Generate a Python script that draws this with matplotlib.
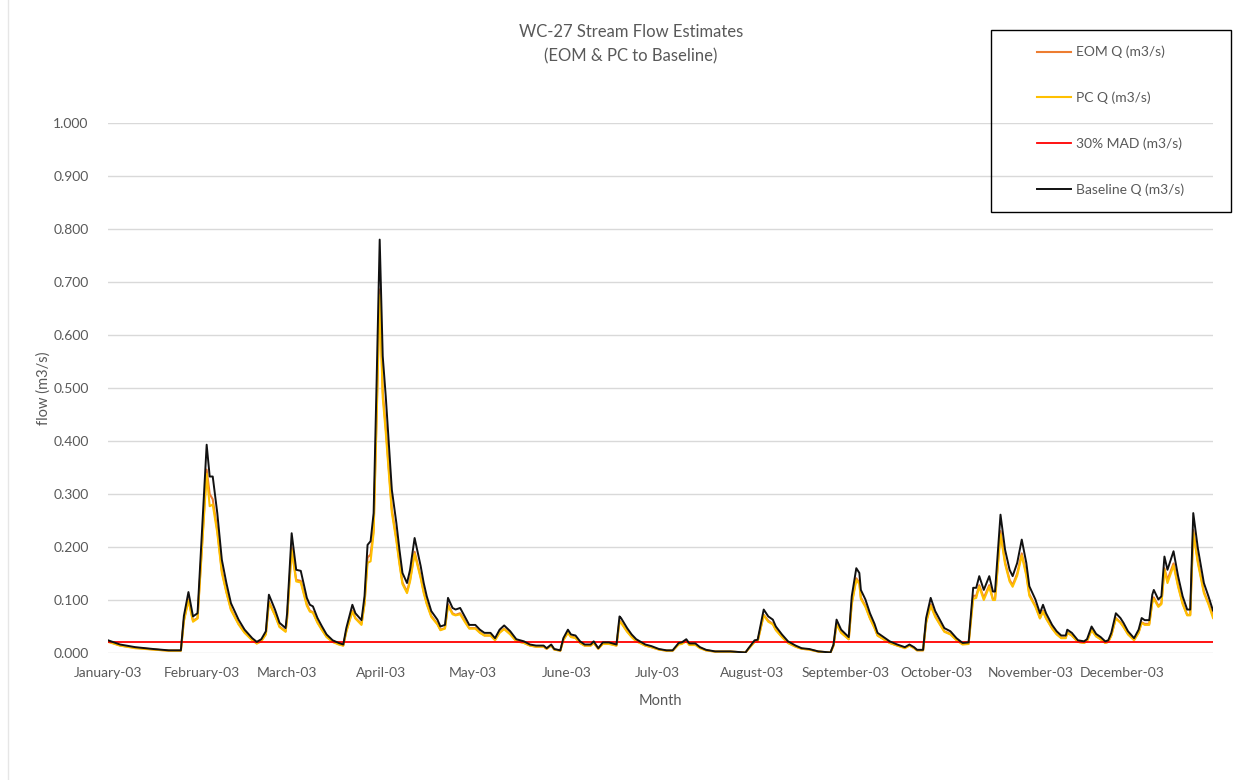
import matplotlib
matplotlib.use("Agg")
import matplotlib.pyplot as plt
from matplotlib.patches import Rectangle

plt.rcParams["font.family"] = ["Lato", "DejaVu Sans"]

# ----------------------------------------------------------
# Daily flow estimates, WC-27 (day of year 2003)
# ----------------------------------------------------------

days = [
    0, 4, 9, 15, 20, 24, 25, 26.5, 28, 29.5,
    31, 32.5, 33.5, 34.5, 36, 37.5, 39, 40.5, 43, 45,
    47.5, 49, 50.5, 52, 53, 55, 56.5, 58.5, 59, 60.5,
    62, 63.5, 65.5, 66.5, 67.5, 69, 70.5, 72, 74, 76,
    77.5, 78.5, 80.5, 81.5, 83.5, 84.5, 85.5, 86.5, 87.5, 88.5,
    89.5, 90.5, 91.5, 92.5, 93.5, 95, 96, 97, 98.5, 99.5,
    101, 103, 104, 105, 106.5, 108.5, 109.5, 111, 112, 113.5,
    114.5, 116, 117.5, 119, 121, 122.5, 124, 126, 127.5, 129,
    130.5, 132.5, 134.5, 137, 139, 141, 143.5, 144.5, 146, 147,
    149, 150, 151.5, 152.5, 154, 155.5, 157, 159, 160, 161.5,
    163, 165, 167.5, 168.5, 169, 171, 172.5, 174, 177, 179,
    181.5, 184, 186, 188, 189, 190.5, 191.5, 193.5, 195, 197,
    200, 205, 210, 211, 213, 214, 216, 217.5, 219, 220,
    222, 224, 226.5, 228.5, 231, 234, 238, 239, 240, 241.5,
    244, 245, 246.5, 247.5, 248, 249.5, 251, 252.5, 253.5, 255.5,
    257.5, 260, 262.5, 264, 265.5, 266.5, 268.5, 269.5, 271, 272.5,
    274, 275.5, 277.5, 279.5, 281.5, 283.5, 285, 286, 287, 288.5,
    290.3, 291.5, 292.2, 294, 295.5, 297, 298, 299.5, 301, 302.5,
    303.5, 305.5, 307, 308, 309, 311, 312.5, 314, 315.5, 316,
    317.5, 319.5, 321.5, 322.5, 324, 325.5, 327, 328.5, 329.5, 330.5,
    332, 333.5, 334.5, 336, 338, 339.5, 340.5, 341.5, 343, 344,
    344.5, 346, 347, 348, 349, 351, 352.5, 354, 355.5, 356.5,
    357.5, 359, 361, 362.5, 364,
]

baseline_q = [
    0.024, 0.016, 0.011, 0.0075, 0.005, 0.005, 0.070, 0.115, 0.069, 0.075,
    0.233, 0.393, 0.333, 0.333, 0.264, 0.176, 0.132, 0.094, 0.063, 0.044,
    0.028, 0.021, 0.026, 0.041, 0.110, 0.082, 0.057, 0.047, 0.075, 0.226,
    0.157, 0.155, 0.104, 0.091, 0.088, 0.066, 0.050, 0.035, 0.024, 0.019,
    0.016, 0.047, 0.091, 0.075, 0.062, 0.107, 0.204, 0.211, 0.264, 0.516,
    0.780, 0.560, 0.484, 0.396, 0.308, 0.245, 0.195, 0.151, 0.132, 0.157,
    0.217, 0.164, 0.132, 0.107, 0.079, 0.063, 0.050, 0.053, 0.104, 0.085,
    0.082, 0.085, 0.069, 0.053, 0.053, 0.044, 0.038, 0.038, 0.028, 0.044,
    0.052, 0.041, 0.026, 0.022, 0.016, 0.014, 0.014, 0.009, 0.016, 0.0075,
    0.005, 0.028, 0.044, 0.035, 0.033, 0.022, 0.016, 0.016, 0.022, 0.009,
    0.020, 0.020, 0.016, 0.069, 0.066, 0.047, 0.035, 0.026, 0.016, 0.013,
    0.0075, 0.005, 0.005, 0.019, 0.020, 0.026, 0.018, 0.018, 0.011, 0.006,
    0.003, 0.003, 0.001, 0.009, 0.024, 0.025, 0.082, 0.069, 0.063, 0.050,
    0.035, 0.022, 0.014, 0.009, 0.0075, 0.003, 0.001, 0.016, 0.063, 0.044,
    0.030, 0.107, 0.160, 0.151, 0.119, 0.101, 0.075, 0.055, 0.038, 0.030,
    0.022, 0.016, 0.011, 0.016, 0.011, 0.006, 0.006, 0.066, 0.104, 0.079,
    0.063, 0.047, 0.041, 0.028, 0.019, 0.020, 0.123, 0.123, 0.145, 0.119,
    0.145, 0.116, 0.116, 0.261, 0.195, 0.157, 0.145, 0.170, 0.214, 0.170,
    0.126, 0.101, 0.075, 0.091, 0.075, 0.053, 0.041, 0.033, 0.033, 0.044,
    0.038, 0.024, 0.022, 0.026, 0.050, 0.036, 0.030, 0.022, 0.024, 0.038,
    0.075, 0.066, 0.057, 0.041, 0.028, 0.044, 0.066, 0.062, 0.062, 0.110,
    0.119, 0.101, 0.107, 0.182, 0.157, 0.192, 0.145, 0.107, 0.082, 0.082,
    0.264, 0.198, 0.132, 0.107, 0.080,
]

pc_q = [
    0.021, 0.014, 0.009, 0.0065, 0.0043, 0.0043, 0.060, 0.099, 0.059, 0.065,
    0.200, 0.338, 0.277, 0.280, 0.227, 0.151, 0.114, 0.081, 0.054, 0.038,
    0.024, 0.018, 0.022, 0.035, 0.095, 0.071, 0.049, 0.040, 0.065, 0.194,
    0.135, 0.133, 0.089, 0.078, 0.076, 0.057, 0.043, 0.030, 0.021, 0.016,
    0.014, 0.040, 0.078, 0.065, 0.053, 0.092, 0.170, 0.173, 0.227, 0.444,
    0.675, 0.482, 0.416, 0.341, 0.265, 0.211, 0.168, 0.130, 0.113, 0.135,
    0.187, 0.141, 0.113, 0.092, 0.068, 0.054, 0.043, 0.046, 0.089, 0.073,
    0.071, 0.073, 0.059, 0.046, 0.046, 0.038, 0.033, 0.033, 0.024, 0.038,
    0.045, 0.035, 0.022, 0.019, 0.014, 0.012, 0.012, 0.008, 0.014, 0.0065,
    0.0043, 0.024, 0.038, 0.030, 0.028, 0.019, 0.014, 0.014, 0.019, 0.008,
    0.017, 0.017, 0.014, 0.059, 0.057, 0.040, 0.030, 0.022, 0.014, 0.011,
    0.0065, 0.0043, 0.0043, 0.016, 0.017, 0.022, 0.015, 0.015, 0.009, 0.005,
    0.0026, 0.0026, 0.0009, 0.008, 0.021, 0.022, 0.071, 0.059, 0.054, 0.043,
    0.030, 0.019, 0.012, 0.008, 0.0065, 0.0026, 0.0009, 0.014, 0.054, 0.038,
    0.026, 0.092, 0.138, 0.130, 0.102, 0.087, 0.065, 0.047, 0.033, 0.026,
    0.019, 0.014, 0.009, 0.014, 0.009, 0.005, 0.005, 0.057, 0.089, 0.068,
    0.054, 0.040, 0.035, 0.024, 0.016, 0.017, 0.102, 0.104, 0.125, 0.100,
    0.125, 0.100, 0.100, 0.224, 0.168, 0.135, 0.125, 0.146, 0.184, 0.146,
    0.108, 0.087, 0.065, 0.078, 0.065, 0.046, 0.035, 0.028, 0.028, 0.038,
    0.033, 0.021, 0.019, 0.022, 0.043, 0.031, 0.026, 0.019, 0.021, 0.033,
    0.065, 0.057, 0.049, 0.035, 0.024, 0.038, 0.057, 0.053, 0.053, 0.095,
    0.102, 0.087, 0.092, 0.157, 0.132, 0.165, 0.125, 0.092, 0.071, 0.071,
    0.227, 0.170, 0.113, 0.092, 0.066,
]

eom_q = [
    0.022, 0.014, 0.010, 0.0066, 0.0044, 0.0044, 0.062, 0.101, 0.061, 0.066,
    0.205, 0.346, 0.300, 0.290, 0.232, 0.155, 0.116, 0.083, 0.055, 0.039,
    0.025, 0.018, 0.023, 0.036, 0.097, 0.072, 0.050, 0.041, 0.066, 0.199,
    0.138, 0.136, 0.092, 0.080, 0.077, 0.058, 0.044, 0.031, 0.021, 0.017,
    0.014, 0.041, 0.080, 0.066, 0.055, 0.094, 0.180, 0.186, 0.232, 0.454,
    0.686, 0.493, 0.426, 0.348, 0.271, 0.216, 0.172, 0.133, 0.116, 0.138,
    0.191, 0.144, 0.116, 0.094, 0.070, 0.055, 0.044, 0.047, 0.092, 0.075,
    0.072, 0.075, 0.061, 0.047, 0.047, 0.039, 0.033, 0.033, 0.025, 0.039,
    0.046, 0.036, 0.023, 0.019, 0.014, 0.012, 0.012, 0.008, 0.014, 0.0066,
    0.0044, 0.025, 0.039, 0.031, 0.029, 0.019, 0.014, 0.014, 0.019, 0.008,
    0.018, 0.018, 0.014, 0.061, 0.058, 0.041, 0.031, 0.023, 0.014, 0.011,
    0.0066, 0.0044, 0.0044, 0.017, 0.018, 0.023, 0.016, 0.016, 0.010, 0.005,
    0.0026, 0.0026, 0.0009, 0.008, 0.021, 0.022, 0.072, 0.061, 0.055, 0.044,
    0.031, 0.019, 0.012, 0.008, 0.0066, 0.0026, 0.0009, 0.014, 0.055, 0.039,
    0.026, 0.094, 0.141, 0.133, 0.105, 0.089, 0.066, 0.048, 0.033, 0.026,
    0.019, 0.014, 0.010, 0.014, 0.010, 0.005, 0.005, 0.058, 0.092, 0.070,
    0.055, 0.041, 0.036, 0.025, 0.017, 0.018, 0.108, 0.108, 0.128, 0.104,
    0.128, 0.102, 0.102, 0.230, 0.172, 0.138, 0.128, 0.150, 0.188, 0.150,
    0.111, 0.089, 0.066, 0.080, 0.066, 0.047, 0.036, 0.029, 0.029, 0.039,
    0.033, 0.021, 0.019, 0.023, 0.044, 0.032, 0.026, 0.019, 0.021, 0.033,
    0.066, 0.058, 0.050, 0.036, 0.025, 0.039, 0.058, 0.055, 0.055, 0.097,
    0.105, 0.089, 0.094, 0.160, 0.138, 0.169, 0.128, 0.094, 0.072, 0.072,
    0.232, 0.174, 0.116, 0.094, 0.070,
]

mad_30 = 0.021

month_start = [0, 31, 59, 90, 120, 151, 181, 212, 243, 273, 304, 334]
month_labels = [
    "January-03", "February-03", "March-03", "April-03", "May-03", "June-03",
    "July-03", "August-03", "September-03", "October-03", "November-03",
    "December-03",
]
y_ticks = [0.0, 0.1, 0.2, 0.3, 0.4, 0.5, 0.6, 0.7, 0.8, 0.9, 1.0]

assert len(days) == len(baseline_q) == len(pc_q) == len(eom_q)

# ----------------------------------------------------------
# Figure
# ----------------------------------------------------------

W, H = 1248, 780
fig = plt.figure(figsize=(W / 100, H / 100), dpi=100)
ax = fig.add_axes([108 / W, 1 - 653 / H, (1213 - 108) / W, (653 - 123) / H])

text_grey = "#595959"

ax.plot(days, eom_q, color="#ED7D31", lw=1.5, label="EOM Q (m3/s)")
ax.plot(days, pc_q, color="#FFC000", lw=1.5, label="PC Q (m3/s)")
ax.plot([days[0], days[-1]], [mad_30, mad_30], color="#FF0000", lw=1.3,
        label="30% MAD (m3/s)")
ax.plot(days, baseline_q, color="#111111", lw=1.4, label="Baseline Q (m3/s)")

ax.set_xlim(days[0], days[-1])
ax.set_ylim(0, 1.0)
ax.set_yticks(y_ticks)
ax.set_yticklabels([f"{v:.3f}" for v in y_ticks])
ax.set_xticks(month_start)
ax.set_xticklabels(month_labels)

ax.grid(axis="y", color="#D9D9D9", lw=1.0)
ax.set_axisbelow(True)
for side in ["top", "right", "left", "bottom"]:
    ax.spines[side].set_visible(False)
ax.tick_params(axis="both", length=0, labelsize=10, colors=text_grey, pad=10)
ax.tick_params(axis="y", pad=14)

ax.set_xlabel("Month", fontsize=10.5, color=text_grey, labelpad=11)
ax.set_ylabel("flow (m3/s)", fontsize=10.5, color=text_grey, labelpad=2)

fig.text(631 / W, 1 - 32 / H, "WC-27 Stream Flow Estimates",
         ha="center", va="center", fontsize=12, color=text_grey)
fig.text(631 / W, 1 - 56 / H, "(EOM & PC to Baseline)",
         ha="center", va="center", fontsize=12, color=text_grey)

# faint chart-area edge on the left
fig.add_artist(plt.Line2D([8 / W, 8 / W], [0, 1], transform=fig.transFigure,
                          color="#E6E6E6", lw=1.0))

# legend box
fig.patches.append(Rectangle((991 / W, 1 - 212 / H), 240 / W, 182 / H,
                             transform=fig.transFigure, fill=False,
                             edgecolor="black", lw=1.0))
leg = fig.legend(loc="center",
                 bbox_to_anchor=((991 + 1231) / 2 / W, 1 - (30 + 212) / 2 / H),
                 frameon=False, fontsize=10, labelspacing=2.4,
                 handlelength=2.4, handletextpad=0.4)
for t in leg.get_texts():
    t.set_color(text_grey)

fig.savefig("out.png", dpi=100, facecolor="white")
